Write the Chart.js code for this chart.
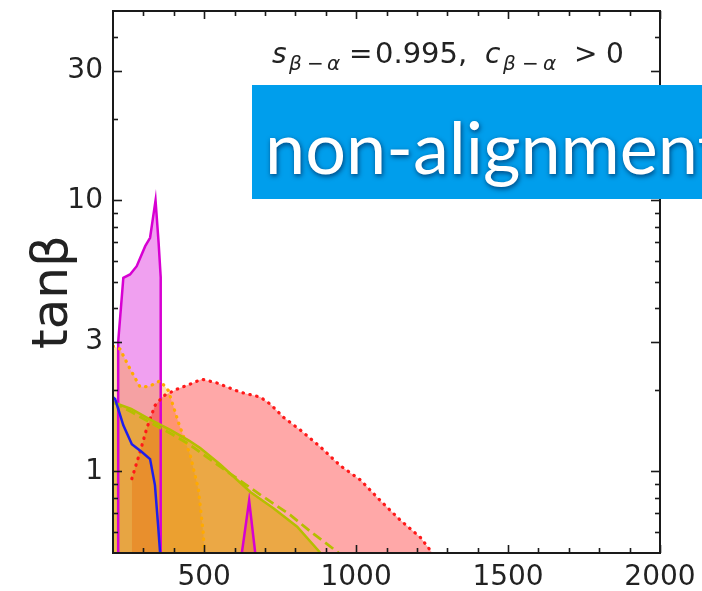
<!DOCTYPE html>
<html>
<head>
<meta charset="utf-8">
<style>
  html, body { margin: 0; padding: 0; background: #fff; }
  #wrap { width: 702px; height: 591px; position: relative; }
</style>
<script src="https://cdn.jsdelivr.net/npm/chart.js@4/dist/chart.umd.min.js"></script>
</head>
<body>
<div id="wrap"><canvas id="c" width="702" height="591"></canvas></div>
<script>
// Axis ticks
const xTicks = [500, 1000, 1500, 2000];
const xMinor = [300, 400, 600, 700, 800, 900, 1100, 1200, 1300, 1400, 1600, 1700, 1800, 1900];
const yTicks = [1, 3, 10, 30];
const yMinor = [0.6, 0.7, 0.8, 0.9, 2, 4, 5, 6, 7, 8, 9, 20, 40];

// Excluded regions in the (mass, tanβ) plane
const magentaMass = [217, 217, 234, 256, 278, 306, 322, 340, 350, 357, 357];
const magentaTan  = [0.5, 3.0, 5.18, 5.33, 5.72, 6.78, 7.28, 10.0, 7.0, 5.2, 0.5];

const spikeMass = [624, 648, 668];
const spikeTan  = [0.5, 0.78, 0.5];

const redMass = [262, 289, 311, 338, 366, 410, 454, 492, 542, 619, 685, 718, 762, 817, 883, 948, 1014, 1080, 1146, 1212, 1251];
const redTan  = [0.94, 1.18, 1.44, 1.75, 1.9, 2.01, 2.1, 2.19, 2.12, 1.96, 1.88, 1.77, 1.58, 1.42, 1.23, 1.05, 0.93, 0.78, 0.66, 0.57, 0.5];

const orangeMass = [200, 223, 256, 289, 320, 355, 382, 415, 454, 481, 498, 500];
const orangeTan  = [2.9, 2.83, 2.39, 2.05, 2.06, 2.16, 1.99, 1.52, 1.15, 0.86, 0.58, 0.5];

const oliveMass = [200, 260, 320, 390, 450, 487, 553, 652, 729, 806, 883];
const oliveTan  = [1.8, 1.7, 1.56, 1.42, 1.3, 1.22, 1.06, 0.84, 0.73, 0.625, 0.5];

const oliveDashMass = [200, 260, 320, 390, 450, 509, 586, 685, 784, 850, 943];
const oliveDashTan  = [1.8, 1.66, 1.52, 1.38, 1.26, 1.13, 0.98, 0.82, 0.69, 0.60, 0.5];

const blueMass = [200, 207, 234, 262, 295, 322, 338, 349, 355];
const blueTan  = [1.88, 1.85, 1.48, 1.26, 1.18, 1.11, 0.89, 0.62, 0.5];

const pts = (xs, ys) => xs.map((x, i) => ({ x: x, y: ys[i] }));

// Inward tick marks on all four sides plus the black frame
const framePlugin = {
  id: 'frame',
  afterDraw(chart) {
    const { ctx, chartArea: a, scales } = chart;
    const xs = scales.x, ys = scales.y;
    ctx.save();
    ctx.strokeStyle = '#1a1a1a';
    ctx.lineWidth = 1.6;
    const tick = (x1, y1, x2, y2) => { ctx.beginPath(); ctx.moveTo(x1, y1); ctx.lineTo(x2, y2); ctx.stroke(); };
    const drawX = (vals, len) => vals.forEach(v => {
      const px = Math.round(xs.getPixelForValue(v)) + 0.5;
      tick(px, a.bottom, px, a.bottom - len);
      tick(px, a.top, px, a.top + len);
    });
    const drawY = (vals, len) => vals.forEach(v => {
      const py = Math.round(ys.getPixelForValue(v)) + 0.5;
      tick(a.left, py, a.left + len, py);
      tick(a.right, py, a.right - len, py);
    });
    drawX(xTicks, 8); drawX(xMinor, 5);
    drawY(yTicks, 9); drawY(yMinor, 5);
    ctx.lineWidth = 2;
    ctx.strokeRect(a.left, a.top, a.right - a.left, a.bottom - a.top);
    ctx.restore();
  }
};

// Axis title, benchmark label and the banner across the top
const labelPlugin = {
  id: 'labels',
  afterDraw(chart) {
    const ctx = chart.ctx;
    ctx.save();
    ctx.fillStyle = '#222';

    // y-axis title
    ctx.save();
    ctx.translate(54, 292);
    ctx.rotate(-Math.PI / 2);
    ctx.textAlign = 'center';
    ctx.textBaseline = 'middle';
    ctx.font = '50px "DejaVu Sans"';
    ctx.fillText('tanβ', 0, 0);
    ctx.restore();

    ctx.textBaseline = 'alphabetic';
    ctx.textAlign = 'left';
    const big = '28px "DejaVu Sans"';
    const bigIt = 'italic 28px "DejaVu Sans"';
    const sub = 'italic 20px "DejaVu Sans"';
    const subUp = '20px "DejaVu Sans"';
    const base = 63, subBase = 70;
    const put = (txt, font, x, y) => { ctx.font = font; ctx.fillText(txt, x, y); };
    put('s', bigIt, 272, base);
    put('β', sub, 289, subBase);
    put('−', subUp, 307, subBase);
    put('α', sub, 327, subBase);
    put('=', big, 349, base);
    put('0.995,', '29px "DejaVu Sans"', 375, base);
    put('c', bigIt, 485, base);
    put('β', sub, 503, subBase);
    put('−', subUp, 522, subBase);
    put('α', sub, 543, subBase);
    put('>', big, 574, base);
    put('0', big, 606, base);

    ctx.fillStyle = 'rgb(0,158,236)';
    ctx.fillRect(252, 85, 460, 114);
    ctx.font = '72px Lato';
    ctx.fillStyle = '#fff';
    ctx.shadowColor = 'rgba(0,0,40,0.6)';
    ctx.shadowBlur = 5;
    ctx.shadowOffsetX = 1;
    ctx.shadowOffsetY = 2;
    ctx.fillText('non-alignment', 265, 174);
    ctx.restore();
  }
};

const dot = [0.5, 6.5];
const noPad = s => { s.paddingTop = 0; s.paddingBottom = 0; s.paddingLeft = 0; s.paddingRight = 0; };

new Chart(document.getElementById('c'), {
  type: 'line',
  data: {
    datasets: [
      { data: pts(blueMass, blueTan), borderColor: 'rgb(30,30,235)', borderWidth: 2.5, fill: false, order: 1 },
      { data: pts(oliveDashMass, oliveDashTan), borderColor: 'rgb(182,190,0)', borderWidth: 2.8, borderDash: [10, 5], fill: false, order: 2 },
      { data: pts(oliveMass, oliveTan), borderColor: 'rgb(182,190,0)', borderWidth: 2.5, fill: 'start', backgroundColor: 'rgba(222,168,3,0.6)', order: 3 },
      { data: pts(redMass, redTan), borderColor: 'rgb(255,25,25)', borderWidth: 3.2, borderDash: dot, borderCapStyle: 'round', fill: 'start', backgroundColor: 'rgba(255,0,0,0.34)', order: 4 },
      { data: pts(orangeMass, orangeTan), borderColor: 'rgb(255,170,0)', borderWidth: 3.2, borderDash: dot, borderCapStyle: 'round', fill: 'start', backgroundColor: 'rgba(255,165,0,0.32)', order: 5 },
      { data: pts(spikeMass, spikeTan), borderColor: 'rgb(215,0,210)', borderWidth: 2.5, fill: 'start', backgroundColor: 'rgb(240,160,240)', order: 6 },
      { data: pts(magentaMass, magentaTan), borderColor: 'rgb(215,0,210)', borderWidth: 2.5, fill: 'start', backgroundColor: 'rgb(240,160,240)', order: 7 }
    ]
  },
  options: {
    responsive: false,
    animation: false,
    elements: { point: { radius: 0, hitRadius: 0 }, line: { tension: 0 } },
    layout: { padding: { top: 11, right: 42, left: 0, bottom: 0 } },
    plugins: {
      legend: { display: false },
      tooltip: { enabled: false },
      filler: { drawTime: 'beforeDatasetsDraw' }
    },
    scales: {
      x: {
        type: 'linear', min: 200, max: 2000,
        grid: { display: false, drawTicks: false },
        border: { display: false },
        afterBuildTicks: s => { s.ticks = xTicks.map(v => ({ value: v })); },
        afterFit: s => { s.height = 38; noPad(s); },
        ticks: { color: '#222', padding: 8, maxRotation: 0, font: { family: 'DejaVu Sans', size: 28 }, callback: v => String(v) }
      },
      y: {
        type: 'logarithmic', min: 0.5, max: 50,
        grid: { display: false, drawTicks: false },
        border: { display: false },
        afterBuildTicks: s => { s.ticks = yTicks.map(v => ({ value: v })); },
        afterFit: s => { s.width = 113; noPad(s); },
        ticks: { color: '#222', padding: 10, font: { family: 'DejaVu Sans', size: 28 }, callback: v => String(v) }
      }
    }
  },
  plugins: [framePlugin, labelPlugin]
});
</script>
</body>
</html>
